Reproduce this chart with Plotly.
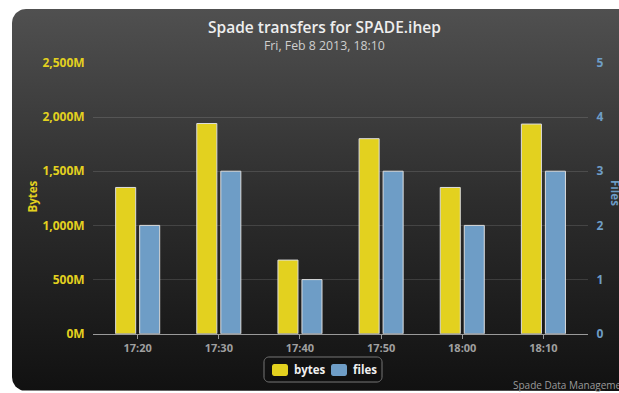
import numpy as np
import plotly.graph_objects as go

# ---- data ----
categories = ["17:20", "17:30", "17:40", "17:50", "18:00", "18:10"]
bytes_vals = [1350e6, 1940e6, 680e6, 1800e6, 1350e6, 1935e6]
files_vals = [2, 3, 1, 3, 2, 3]
bytes_tickvals = [0, 500e6, 1000e6, 1500e6, 2000e6, 2500e6]
bytes_ticktext = ["0M", "500M", "1,000M", "1,500M", "2,000M", "2,500M"]
files_tickvals = [0, 1, 2, 3, 4, 5]
series_names = ["bytes", "files"]

W, H = 619, 393
FONT = "Open Sans"
YELLOW = "#E3D11F"
BLUE = "#6E9DC6"


def px_x(p):
    return p / W


def px_y(p):
    return (H - p) / H


def rounded_rect(x0, y0, x1, y1, r, n=12):
    xs, ys = [], []
    corners = [
        (x1 - r, y0 + r, -np.pi / 2, 0),
        (x1 - r, y1 - r, 0, np.pi / 2),
        (x0 + r, y1 - r, np.pi / 2, np.pi),
        (x0 + r, y0 + r, np.pi, 1.5 * np.pi),
    ]
    for cx, cy, a0, a1 in corners:
        t = np.linspace(a0, a1, n)
        xs += list(cx + r * np.cos(t))
        ys += list(cy + r * np.sin(t))
    xs.append(xs[0])
    ys.append(ys[0])
    return xs, ys


def rr_path(x0, y0, x1, y1, r):
    xs, ys = rounded_rect(x0, y0, x1, y1, r)
    return "M " + " L ".join(f"{a:.2f},{b:.2f}" for a, b in zip(xs, ys)) + " Z"


fig = go.Figure()

# background chart panel (pixel-coordinate helper axes)
bx, by = rounded_rect(12, 9, 680, 391, 14)
fig.add_trace(go.Scatter(
    x=bx, y=by, mode="lines", fill="toself",
    line=dict(width=0, color="rgba(0,0,0,0)"),
    fillgradient=dict(type="vertical", start=9, stop=391,
                      colorscale=[[0, "#505050"], [0.5, "#2d2d2d"], [1, "#111111"]]),
    hoverinfo="skip", showlegend=False, xaxis="x", yaxis="y"))

fig.add_trace(go.Bar(
    name=series_names[0], x=categories, y=bytes_vals,
    width=0.247, offset=-0.271,
    marker=dict(color=YELLOW, line=dict(color="#dcdcdc", width=1)),
    xaxis="x2", yaxis="y2"))
fig.add_trace(go.Bar(
    name=series_names[1], x=categories, y=files_vals,
    width=0.247, offset=0.025,
    marker=dict(color=BLUE, line=dict(color="#dcdcdc", width=1)),
    xaxis="x2", yaxis="y3"))

grid = "rgba(255,255,255,0.13)"
y_top, y_bot = 62.8, 333.8

fig.update_layout(
    width=W, height=H,
    margin=dict(l=0, r=0, t=0, b=0, autoexpand=False),
    paper_bgcolor="white", plot_bgcolor="rgba(0,0,0,0)",
    barmode="group",
    showlegend=False,
    xaxis=dict(domain=[0, 1], range=[0, W], visible=False, fixedrange=True),
    yaxis=dict(domain=[0, 1], range=[H, 0], visible=False, fixedrange=True),
    xaxis2=dict(domain=[px_x(93), px_x(588)], anchor="y2", type="category",
                range=[-0.55, 5.55], showgrid=False,
                showline=True, linecolor="#9a9a9a", linewidth=1,
                ticks="outside", ticklen=4, tickcolor="#9a9a9a",
                tickfont=dict(family=FONT, size=11, color="#a0a0a0", weight="bold")),
    yaxis2=dict(domain=[px_y(y_bot), px_y(y_top)], anchor="x2",
                range=[0, 2500e6], tickvals=bytes_tickvals, ticktext=bytes_ticktext,
                showgrid=True, gridcolor=grid, gridwidth=1, zeroline=False,
                showline=False, ticks="outside", ticklen=5, tickcolor="rgba(0,0,0,0)",
                tickfont=dict(family=FONT, size=12, color=YELLOW, weight="bold")),
    yaxis3=dict(overlaying="y2", side="right", anchor="x2",
                range=[0, 5], tickvals=files_tickvals,
                showgrid=False, zeroline=False, showline=False,
                ticks="outside", ticklen=5, tickcolor="rgba(0,0,0,0)",
                tickfont=dict(family=FONT, size=12, color=BLUE, weight="bold")),
    font=dict(family=FONT),
)

# legend (drawn to match the rounded-box legend of the original)
fig.add_shape(type="path", path=rr_path(264, 357, 382, 382, 5),
              xref="x", yref="y", line=dict(color="#777777", width=1),
              fillcolor="rgba(0,0,0,0.12)", layer="above")
legend_items = [(series_names[0], YELLOW, 272, 292), (series_names[1], BLUE, 331, 351)]
for name, col, sx, tx in legend_items:
    fig.add_shape(type="path", path=rr_path(sx, 364, sx + 16, 376, 2.5),
                  xref="x", yref="y", line=dict(color=col, width=0),
                  fillcolor=col, layer="above")
    fig.add_annotation(text=name, x=px_x(tx), y=px_y(369.5),
                       xref="paper", yref="paper", showarrow=False,
                       xanchor="left", yanchor="middle",
                       font=dict(family=FONT, size=11.5, color="#f0f0f0", weight="bold"))

# titles
fig.add_annotation(text="Spade transfers for SPADE.ihep", x=px_x(324.5), y=px_y(27),
                   xref="paper", yref="paper", showarrow=False,
                   xanchor="center", yanchor="middle",
                   font=dict(family=FONT, size=15.5, color="#eeeeee", weight=600))
fig.add_annotation(text="Fri, Feb 8 2013, 18:10", x=px_x(324.5), y=px_y(45.5),
                   xref="paper", yref="paper", showarrow=False,
                   xanchor="center", yanchor="middle",
                   font=dict(family=FONT, size=12.3, color="#cfcfcf"))
fig.add_annotation(text="Bytes", x=px_x(31.5), y=px_y(197), textangle=-90,
                   xref="paper", yref="paper", showarrow=False,
                   xanchor="center", yanchor="middle",
                   font=dict(family=FONT, size=11.5, color=YELLOW, weight="bold"))
fig.add_annotation(text="Files", x=px_x(616), y=px_y(193), textangle=90,
                   xref="paper", yref="paper", showarrow=False,
                   xanchor="center", yanchor="middle",
                   font=dict(family=FONT, size=11.5, color=BLUE, weight="bold"))
fig.add_annotation(text="Spade Data Management", x=px_x(511), y=px_y(385),
                   xref="paper", yref="paper", showarrow=False,
                   xanchor="left", yanchor="middle",
                   font=dict(family=FONT, size=10, color="#9a9a9a"))

fig.write_html("out.html")
